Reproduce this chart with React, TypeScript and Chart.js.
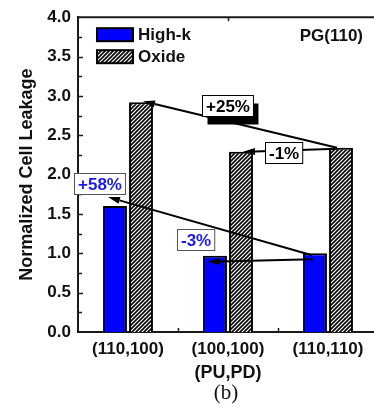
import React, { useEffect, useRef } from "react";
import { Chart, registerables } from "chart.js";

Chart.register(...registerables);

// ---- data ----
const categories = ["(110,100)", "(100,100)", "(110,110)"];
const seriesNames = ["High-k", "Oxide"];
const highK = [1.6, 0.97, 1.0];
const oxide = [2.92, 2.29, 2.34];
const changeLabels = ["+25%", "-1%", "+58%", "-3%"];
const xTitle = "(PU,PD)";
const yTitle = "Normalized Cell Leakage";
const panelTag = "PG(110)";
const subCaption = "(b)";

// ---- annotation layout (positions in data units, offsets in px) ----
const annotations = [
  { text: changeLabels[0], ds: 1, from: 2, to: 0, fdx: -4, fdy: 0, tdx: 2, tdy: -1, lx: 0.995, ly: 2.88, color: "#000", border: "#000", shadow: true },
  { text: changeLabels[1], ds: 1, from: 2, to: 1, fdx: -4, fdy: 1, tdx: 2, tdy: 0, lx: 1.555, ly: 2.277, color: "#000", border: "#000", shadow: false },
  { text: changeLabels[2], ds: 0, from: 2, to: 0, fdx: -3, fdy: 2, tdx: -7, tdy: -9, lx: -0.285, ly: 1.887, color: "#1a1aee", border: "#555", shadow: false },
  { text: changeLabels[3], ds: 0, from: 2, to: 1, fdx: -2, fdy: 6, tdx: -7, tdy: 6, lx: 0.68, ly: 1.17, color: "#1a1aee", border: "#555", shadow: false },
];

const FONT = "'Liberation Sans', Arial, Helvetica, sans-serif";
const AXIS = "#1a1a1a";

function makeHatch(): CanvasPattern | string {
  const s = 4;
  const c = document.createElement("canvas");
  c.width = s;
  c.height = s;
  const g = c.getContext("2d");
  if (!g) return "#888";
  g.fillStyle = "#fff";
  g.fillRect(0, 0, s, s);
  g.strokeStyle = "#000";
  g.lineWidth = 1.6;
  g.beginPath();
  g.moveTo(0, s);
  g.lineTo(s, 0);
  g.moveTo(-1, 1);
  g.lineTo(1, -1);
  g.moveTo(s - 1, s + 1);
  g.lineTo(s + 1, s - 1);
  g.stroke();
  return g.createPattern(c, "repeat") || "#888";
}

function arrow(ctx: CanvasRenderingContext2D, x1: number, y1: number, x2: number, y2: number) {
  const ang = Math.atan2(y2 - y1, x2 - x1);
  const hl = 12;
  const hw = 3.5;
  const bx = x2 - hl * Math.cos(ang);
  const by = y2 - hl * Math.sin(ang);
  ctx.beginPath();
  ctx.moveTo(x1, y1);
  ctx.lineTo(bx, by);
  ctx.lineWidth = 2;
  ctx.strokeStyle = "#000";
  ctx.stroke();
  ctx.beginPath();
  ctx.moveTo(x2, y2);
  ctx.lineTo(bx + hw * Math.sin(ang), by - hw * Math.cos(ang));
  ctx.lineTo(bx - hw * Math.sin(ang), by + hw * Math.cos(ang));
  ctx.closePath();
  ctx.fillStyle = "#000";
  ctx.fill();
}

export default function App() {
  const ref = useRef<HTMLCanvasElement | null>(null);

  useEffect(() => {
    if (!ref.current) return;
    const hatch = makeHatch();

    const overlay = {
      id: "overlay",
      afterDatasetsDraw(chart: any) {
        const ctx: CanvasRenderingContext2D = chart.ctx;
        const { left, right, top, bottom } = chart.chartArea;
        const xs = chart.scales.x;
        const ys = chart.scales.y;
        ctx.save();

        // top frame line
        ctx.strokeStyle = AXIS;
        ctx.lineWidth = 2;
        ctx.beginPath();
        ctx.moveTo(left - 1, top);
        ctx.lineTo(right, top);
        ctx.stroke();

        // inward y ticks
        ctx.lineWidth = 1.5;
        for (let v = 0.25; v < 4; v += 0.25) {
          const y = Math.round(ys.getPixelForValue(v)) + 0.5;
          const len = Math.abs(v * 2 - Math.round(v * 2)) < 1e-6 ? 5 : 4;
          ctx.beginPath();
          ctx.moveTo(left, y);
          ctx.lineTo(left + len, y);
          ctx.stroke();
        }
        // x ticks between categories (inward), and top tick at centre
        for (let i = 0; i < categories.length - 1; i++) {
          const x = Math.round(xs.getPixelForValue(i + 0.5)) + 0.5;
          ctx.beginPath();
          ctx.moveTo(x, bottom);
          ctx.lineTo(x, bottom - 4);
          ctx.stroke();
        }
        {
          const x = Math.round(xs.getPixelForValue(1)) + 0.5;
          ctx.beginPath();
          ctx.moveTo(x, top);
          ctx.lineTo(x, top + 4);
          ctx.stroke();
        }

        // legend
        const lx = left + 19;
        const rows = [top + 11, top + 33];
        const fills = [chart.data.datasets[0].backgroundColor, chart.data.datasets[1].backgroundColor];
        ctx.font = `bold 17px ${FONT}`;
        ctx.textBaseline = "middle";
        ctx.textAlign = "left";
        rows.forEach((ry, i) => {
          ctx.fillStyle = fills[i];
          ctx.fillRect(lx, ry, 36, 13);
          ctx.lineWidth = 2;
          ctx.strokeStyle = "#000";
          ctx.strokeRect(lx, ry, 36, 13);
          ctx.fillStyle = "#111";
          ctx.fillText(chart.data.datasets[i].label, lx + 41, ry + 7);
        });

        // panel tag
        ctx.textAlign = "right";
        ctx.fillText(panelTag, 363, top + 19);

        // arrows
        annotations.forEach((a) => {
          const meta = chart.getDatasetMeta(a.ds);
          const f = meta.data[a.from];
          const t = meta.data[a.to];
          arrow(ctx, f.x + a.fdx, f.y + a.fdy, t.x + a.tdx, t.y + a.tdy);
        });
        // label boxes
        ctx.font = `bold 17px ${FONT}`;
        annotations.forEach((a) => {
          const cx = xs.getPixelForValue(a.lx);
          const cy = ys.getPixelForValue(a.ly);
          const w = ctx.measureText(a.text).width + 7;
          const h = 21;
          const bx = Math.round(cx - w / 2) + 0.5;
          const by = Math.round(cy - h / 2) + 0.5;
          if (a.shadow) {
            ctx.fillStyle = "#000";
            ctx.fillRect(bx + 5, by + 8, w, h);
          }
          ctx.fillStyle = "#fff";
          ctx.fillRect(bx, by, w, h);
          ctx.lineWidth = 1;
          ctx.strokeStyle = a.border;
          ctx.strokeRect(bx, by, w, h);
          ctx.fillStyle = a.color;
          ctx.textAlign = "center";
          ctx.textBaseline = "middle";
          ctx.fillText(a.text, bx + w / 2, by + h / 2 + 1);
        });

        // caption
        ctx.font = `21px 'Liberation Serif', 'Times New Roman', serif`;
        ctx.fillStyle = "#111";
        ctx.textAlign = "center";
        ctx.textBaseline = "middle";
        ctx.fillText(subCaption, (left + right) / 2 - 2, 393);
        ctx.restore();
      },
    };

    const chart = new Chart(ref.current, {
      type: "bar",
      data: {
        labels: categories,
        datasets: [
          {
            label: seriesNames[0],
            data: highK,
            backgroundColor: "#0000ff",
            borderColor: "#000",
            borderWidth: 2,
            categoryPercentage: 0.52,
            barPercentage: 0.92,
          },
          {
            label: seriesNames[1],
            data: oxide,
            backgroundColor: hatch as any,
            borderColor: "#000",
            borderWidth: 2,
            categoryPercentage: 0.52,
            barPercentage: 0.92,
          },
        ],
      },
      options: {
        responsive: false,
        animation: false,
        devicePixelRatio: 1,
        layout: { padding: { top: 14, left: 0, right: 0, bottom: 0 } },
        plugins: { legend: { display: false }, tooltip: { enabled: false } },
        scales: {
          x: {
            type: "category",
            offset: true,
            grid: { display: false, drawTicks: false },
            border: { display: true, width: 2, color: AXIS },
            ticks: {
              color: "#111",
              font: { family: FONT, size: 17, weight: "bold" },
              padding: 7,
              maxRotation: 0,
              autoSkip: false,
            },
            title: {
              display: true,
              text: xTitle,
              color: "#111",
              font: { family: FONT, size: 18, weight: "bold" },
              padding: { top: 0, bottom: 24 },
            },
            afterFit: (s: any) => {
              s.height = 76;
            },
          },
          y: {
            min: 0,
            max: 4,
            grid: { display: false, drawTicks: false },
            border: { display: true, width: 2, color: AXIS },
            ticks: {
              stepSize: 0.5,
              color: "#111",
              font: { family: FONT, size: 17, weight: "bold" },
              padding: 7,
              callback: (v: any) => Number(v).toFixed(1),
            },
            title: {
              display: true,
              text: yTitle,
              color: "#111",
              font: { family: FONT, size: 18, weight: "bold" },
              padding: { top: 16, bottom: 0 },
            },
            afterFit: (s: any) => {
              s.width = 78;
            },
          },
        },
      } as any,
      plugins: [overlay],
    });
    return () => chart.destroy();
  }, []);

  return (
    <div style={{ position: "fixed", left: 0, top: 0, width: 374, height: 408, overflow: "hidden", background: "#fff" }}>
      <canvas ref={ref} width={378} height={408} style={{ display: "block" }} />
    </div>
  );
}
